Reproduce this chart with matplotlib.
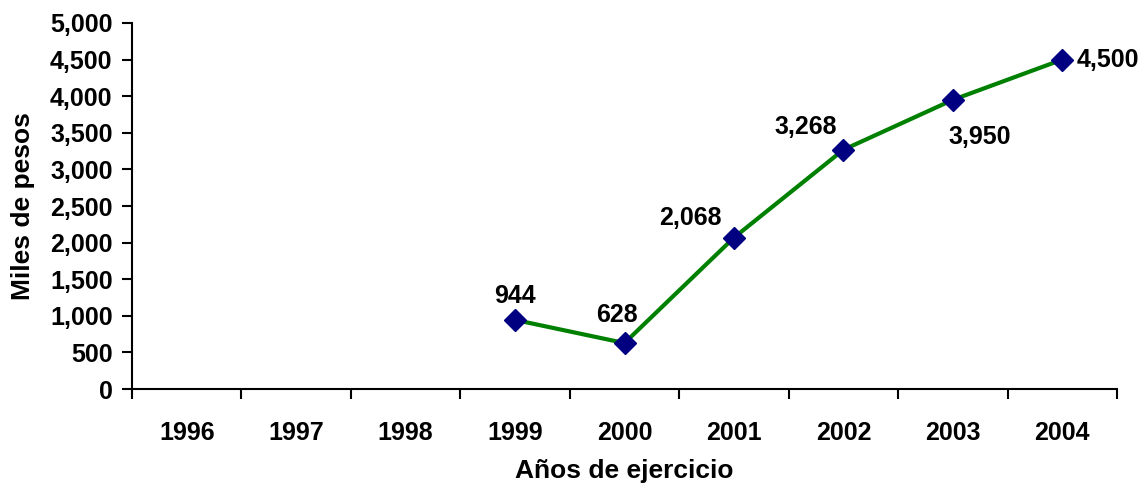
import matplotlib
matplotlib.use("Agg")
import matplotlib.pyplot as plt
from matplotlib.ticker import FuncFormatter, FixedLocator

years = ["1996", "1997", "1998", "1999", "2000", "2001", "2002", "2003", "2004"]
data_years = ["1999", "2000", "2001", "2002", "2003", "2004"]
values = [944, 628, 2068, 3268, 3950, 4500]
label_offsets = [(0, 24), (-8, 28), (-44, 20), (-38, 23), (27, -37), (46, 0)]

plt.rcParams['font.family'] = ['Liberation Sans', 'DejaVu Sans']
plt.rcParams['font.weight'] = 'bold'
FS = 18

fig = plt.figure(figsize=(11.46, 4.87), dpi=100)
ax = fig.add_axes([0.1152, 0.2012, 0.8595, 0.7516])

xs = [years.index(y) for y in data_years]
ax.plot(xs, values, color='#008000', lw=3, marker='D', markersize=11,
        markerfacecolor='#000080', markeredgecolor='#000080', zorder=3)

for x, v, (dx, dy) in zip(xs, values, label_offsets):
    ax.annotate(f"{v:,}", (x, v), xytext=(dx, dy), textcoords='offset pixels',
                ha='center', va='center', fontsize=FS, fontweight='bold')

ax.set_xlim(-0.5, len(years) - 0.5)
ax.set_ylim(0, 5000)
ax.yaxis.set_major_locator(FixedLocator(range(0, 5001, 500)))
ax.yaxis.set_major_formatter(FuncFormatter(lambda v, p: f"{int(v):,}"))

ax.xaxis.set_major_locator(FixedLocator([i - 0.5 for i in range(len(years) + 1)]))
ax.xaxis.set_major_formatter(FuncFormatter(lambda v, p: ""))
ax.xaxis.set_minor_locator(FixedLocator(range(len(years))))
ax.set_xticklabels(years, minor=True)
ax.tick_params(axis='x', which='minor', length=0, pad=23, labelsize=FS)
ax.tick_params(axis='x', which='major', length=7, width=1.5, direction='out')
ax.tick_params(axis='y', length=7, width=1.5, direction='out', labelsize=FS, pad=7)

for s in ['top', 'right']:
    ax.spines[s].set_visible(False)
for s in ['left', 'bottom']:
    ax.spines[s].set_linewidth(1.5)

ax.set_xlabel("Años de ejercicio", fontsize=19, fontweight='bold', labelpad=10)
ax.set_ylabel("Miles de pesos", fontsize=19, fontweight='bold', labelpad=11)

fig.savefig("out.png", dpi=100)
